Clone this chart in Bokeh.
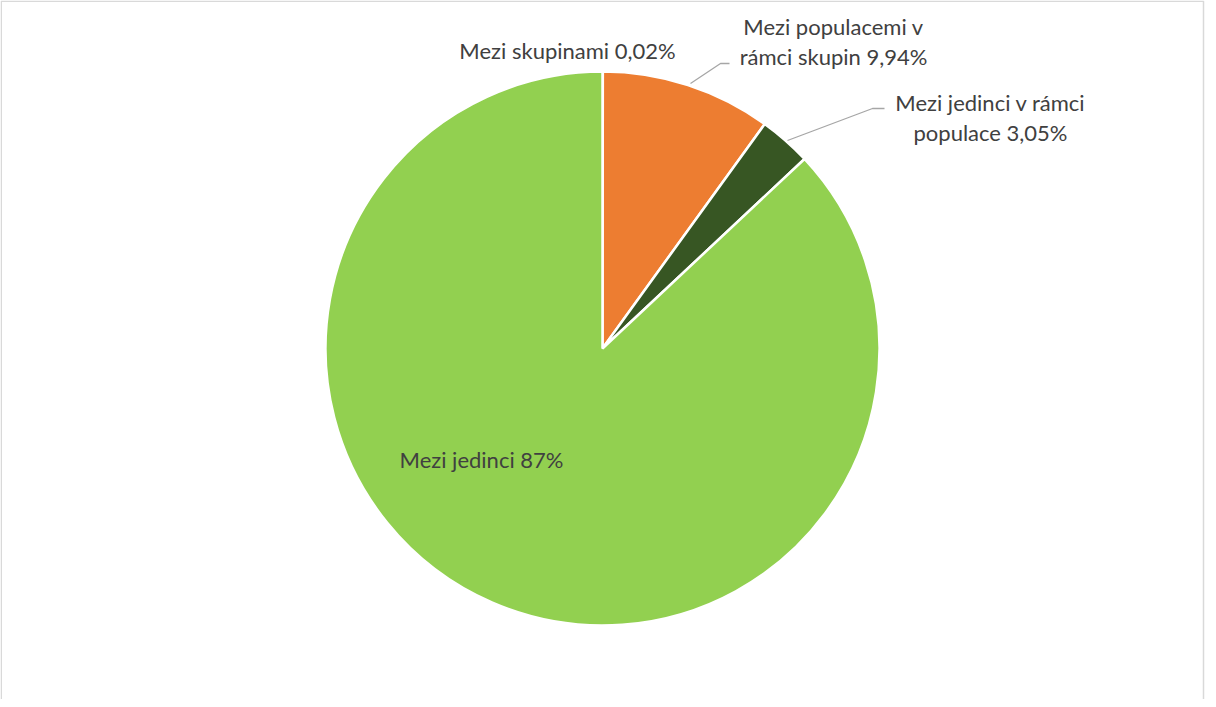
import math
from bokeh.plotting import figure
from bokeh.models import ColumnDataSource, Range1d
from bokeh.core.properties import value
from bokeh.embed import file_html
from bokeh.resources import INLINE

# ---- data ----
categories = ["Mezi skupinami", "Mezi populacemi v rámci skupin",
              "Mezi jedinci v rámci populace", "Mezi jedinci"]
percents = [0.02, 9.94, 3.05, 87.0]
label_lines = [["Mezi skupinami 0,02%"],
               ["Mezi populacemi v", "rámci skupin 9,94%"],
               ["Mezi jedinci v rámci", "populace 3,05%"],
               ["Mezi jedinci 87%"]]
colors = ["#4472C4", "#ED7D31", "#375623", "#92D050"]

# ---- layout (page pixel coordinates) ----
W, H = 1206, 699
OX, OY = 8, 8
def px(x):
    return x - OX
def py(y):
    return H - (y - OY)

cx, cy, R = 610, 356, 277

total = sum(percents)
starts, ends = [], []
acc = 0.0
for v in percents:
    a0 = math.pi / 2 - 2 * math.pi * acc / total
    acc += v
    a1 = math.pi / 2 - 2 * math.pi * acc / total
    starts.append(a0)
    ends.append(a1)

src = ColumnDataSource(dict(cat=categories, pct=percents, start=starts, end=ends, color=colors))

p = figure(width=W, height=H, output_backend="svg", toolbar_location=None,
           x_range=Range1d(0, W), y_range=Range1d(0, H),
           x_axis_type=None, y_axis_type=None, min_border=0,
           background_fill_color="white", border_fill_color="white")
p.grid.visible = False
p.outline_line_color = None

# chart-area border (left, top, right; bottom lies below the window)
p.line([0.75, 0.75, W - 3, W - 3], [0, H - 0.75, H - 0.75, 0],
       line_color="#d9d9d9", line_width=1.5)

p.wedge(x=px(cx), y=py(cy), radius=R, start_angle="start", end_angle="end",
        direction="clock", fill_color="color", line_color="white", line_width=2.5,
        source=src)

# leader lines
p.line([px(698), px(728), px(737)], [py(91), py(71), py(71)], line_color="#a6a6a6", line_width=1.3)
p.line([px(795), px(880), px(892)], [py(148), py(116), py(116)], line_color="#a6a6a6", line_width=1.3)

# label positions (centre of first line) and line spacing
label_pos = [(575, 58), (841, 34), (998, 110), (489, 467)]
line_gap = 30
tx, ty, tt = [], [], []
for (lx, ly), lines in zip(label_pos, label_lines):
    for i, t in enumerate(lines):
        tx.append(px(lx))
        ty.append(py(ly + i * line_gap))
        tt.append(t)
p.text(x=tx, y=ty, text=tt, text_font=value("Lato"), text_font_size="22px",
       text_color="#404040", text_align="center", text_baseline="middle")

open("out.html", "w").write(file_html(p, INLINE))
